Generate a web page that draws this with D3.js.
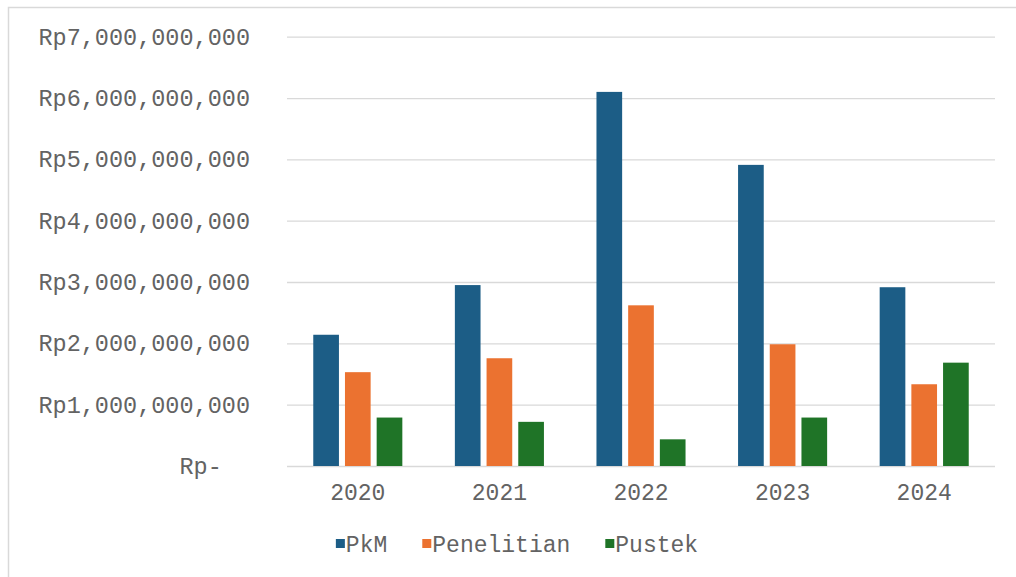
<!DOCTYPE html>
<html>
<head>
<meta charset="utf-8">
<script src="https://cdn.jsdelivr.net/npm/d3@7"></script>
<style>
  html, body { margin: 0; padding: 0; background: #fff; }
  svg { display: block; }
  text { font-family: "Courier New", "Liberation Mono", monospace; fill: #636363; }
</style>
</head>
<body>
<svg id="chart" width="1016" height="577"></svg>
<script>
// Anggaran per tahun (Rupiah)
const years = ["2020", "2021", "2022", "2023", "2024"];
const seriesNames = ["PkM", "Penelitian", "Pustek"];
const pkm        = [2140000000, 2950000000, 6100000000, 4910000000, 2915000000];
const penelitian = [1530000000, 1757000000, 2620000000, 1985000000, 1333000000];
const pustek     = [ 790000000,  720000000,  435000000,  790000000, 1685000000];
const yTicks = [0, 1e9, 2e9, 3e9, 4e9, 5e9, 6e9, 7e9];
const colors = ["#1c5d86", "#eb7230", "#1f7427"];

const values = [pkm, penelitian, pustek];
const rows = years.map((yr, i) => ({ year: yr, vals: seriesNames.map((s, j) => ({ key: s, value: values[j][i] })) }));

const svg = d3.select("#chart");

// chart frame
svg.append("rect")
  .attr("x", 8.5).attr("y", 7.5)
  .attr("width", 1030).attr("height", 600)
  .attr("fill", "#fff").attr("stroke", "#d9d9d9").attr("stroke-width", 1.5);

const plotLeft = 287, plotRight = 995, plotTop = 36.7, plotBottom = 466;

const y = d3.scaleLinear().domain([0, 7e9]).range([plotBottom, plotTop]);
const x0 = d3.scaleBand().domain(years).range([plotLeft, plotRight])
  .paddingInner(0.371).paddingOuter(0.1855);
const x1 = d3.scaleBand().domain(seriesNames).range([0, x0.bandwidth()])
  .paddingInner(0.19).paddingOuter(0);

// gridlines
const grid = svg.append("g").attr("transform", `translate(${plotLeft},0)`)
  .call(d3.axisLeft(y).tickValues(yTicks).tickSize(-(plotRight - plotLeft)).tickFormat(""));
grid.select(".domain").remove();
grid.selectAll("line").attr("stroke", "#d9d9d9").attr("stroke-width", 1.3);

// y labels
const fmt = d3.format(",");
const yAxis = svg.append("g").attr("transform", `translate(${plotLeft},0)`)
  .call(d3.axisLeft(y).tickValues(yTicks).tickSize(0).tickPadding(37)
    .tickFormat(d => d === 0 ? "Rp-\u00A0\u00A0" : "Rp" + fmt(d)));
yAxis.select(".domain").remove();
yAxis.selectAll("text").style("font-size", "23.5px").attr("fill", "#636363").style("white-space", "pre");

// bars
const groups = svg.append("g").selectAll("g").data(rows).join("g")
  .attr("transform", d => `translate(${x0(d.year)},0)`);
groups.selectAll("rect").data(d => d.vals).join("rect")
  .attr("x", d => x1(d.key))
  .attr("width", x1.bandwidth())
  .attr("y", d => y(d.value))
  .attr("height", d => y(0) - y(d.value))
  .attr("fill", (d, i) => colors[i]);

// x labels
const xAxis = svg.append("g").attr("transform", `translate(0,${plotBottom})`)
  .call(d3.axisBottom(x0).tickSize(0).tickPadding(18));
xAxis.select(".domain").remove();
xAxis.selectAll("text").style("font-size", "23px").attr("fill", "#636363");

// legend
const legend = svg.append("g");
const items = legend.selectAll("g").data(seriesNames).join("g");
items.append("rect").attr("width", 9).attr("height", 9).attr("y", -5)
  .attr("fill", (d, i) => colors[i]);
items.append("text").attr("x", 10).attr("dy", "0.35em")
  .style("font-size", "23px").text(d => d);
const legendGap = 35;
let cx = 0;
items.each(function () {
  const g = d3.select(this);
  g.attr("transform", `translate(${cx},0)`);
  cx += 10 + g.select("text").node().getComputedTextLength() + legendGap;
});
const totalW = cx - legendGap;
legend.attr("transform", `translate(${517 - totalW / 2},544)`);
</script>
</body>
</html>
